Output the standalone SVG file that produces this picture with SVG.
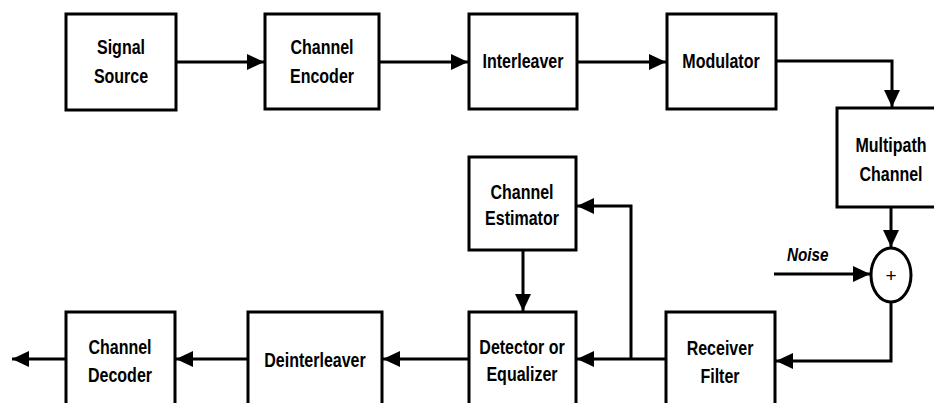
<svg xmlns="http://www.w3.org/2000/svg" width="934" height="403" viewBox="0 0 934 403">
<style>
.box{fill:#fff;stroke:#000;stroke-width:3}
.lbl{font-family:"Liberation Sans",Arial,sans-serif;font-weight:bold;font-size:20px;text-anchor:middle;fill:#000}
.wire{fill:none;stroke:#000;stroke-width:3}
</style>
<defs>
<marker id="ah" markerUnits="userSpaceOnUse" markerWidth="18" markerHeight="16" refX="17" refY="8" orient="auto">
<path d="M0,0 L17,8 L0,16 z" fill="#000"/>
</marker>
</defs>
<rect width="934" height="403" fill="#fff"/>
<g id="connectors">
<path class="wire" d="M176,62 L264,62" marker-end="url(#ah)"/>
<path class="wire" d="M379,62 L468,62" marker-end="url(#ah)"/>
<path class="wire" d="M577,62 L666,62" marker-end="url(#ah)"/>
<path class="wire" d="M776,61 L892,61 L892,107" marker-end="url(#ah)"/>
<path class="wire" d="M891,207 L891,247" marker-end="url(#ah)"/>
<path class="wire" d="M774,274 L870,274" marker-end="url(#ah)"/>
<path class="wire" d="M891,302 L891,361 L776,361" marker-end="url(#ah)"/>
<path class="wire" d="M666,359 L577,359" marker-end="url(#ah)"/>
<path class="wire" d="M631,359 L631,206 L577,206" marker-end="url(#ah)"/>
<path class="wire" d="M523,250 L523,311" marker-end="url(#ah)"/>
<path class="wire" d="M469,359 L383,359" marker-end="url(#ah)"/>
<path class="wire" d="M248,359 L176,359" marker-end="url(#ah)"/>
<path class="wire" d="M66,359 L12,359" marker-end="url(#ah)"/>
</g>
<g id="signal-source"><rect class="box" x="66" y="14" width="110" height="96"/><text class="lbl" transform="translate(121,54) scale(0.8,1)">Signal</text><text class="lbl" transform="translate(121,83) scale(0.8,1)">Source</text></g>
<g id="channel-encoder"><rect class="box" x="265" y="14" width="114" height="95"/><text class="lbl" transform="translate(322,54) scale(0.8,1)">Channel</text><text class="lbl" transform="translate(322,83) scale(0.8,1)">Encoder</text></g>
<g id="interleaver"><rect class="box" x="469" y="14" width="108" height="95"/><text class="lbl" transform="translate(523,68) scale(0.8,1)">Interleaver</text></g>
<g id="modulator"><rect class="box" x="667" y="14" width="109" height="95"/><text class="lbl" transform="translate(721,68) scale(0.8,1)">Modulator</text></g>
<g id="multipath-channel"><rect class="box" x="837" y="108" width="109" height="99"/><text class="lbl" transform="translate(891,152) scale(0.8,1)">Multipath</text><text class="lbl" transform="translate(891,181) scale(0.8,1)">Channel</text></g>
<g id="adder"><ellipse cx="891" cy="275" rx="20" ry="27" fill="#fff" stroke="#000" stroke-width="3"/><text x="891" y="282" font-family="Liberation Sans,Arial,sans-serif" font-size="19" text-anchor="middle" fill="#000">+</text></g>
<g id="noise"><text transform="translate(787,261) scale(0.85,1)" font-family="Liberation Sans,Arial,sans-serif" font-weight="bold" font-style="italic" font-size="18">Noise</text></g>
<g id="receiver-filter"><rect class="box" x="666" y="312" width="109" height="110"/><text class="lbl" transform="translate(720,355) scale(0.8,1)">Receiver</text><text class="lbl" transform="translate(720,383) scale(0.8,1)">Filter</text></g>
<g id="channel-estimator"><rect class="box" x="469" y="157" width="107" height="93"/><text class="lbl" transform="translate(522,199) scale(0.8,1)">Channel</text><text class="lbl" transform="translate(522,225) scale(0.8,1)">Estimator</text></g>
<g id="detector-equalizer"><rect class="box" x="469" y="312" width="107" height="110"/><text class="lbl" transform="translate(522,354) scale(0.8,1)">Detector or</text><text class="lbl" transform="translate(522,381) scale(0.8,1)">Equalizer</text></g>
<g id="deinterleaver"><rect class="box" x="248" y="312" width="134" height="110"/><text class="lbl" transform="translate(315,367) scale(0.8,1)">Deinterleaver</text></g>
<g id="channel-decoder"><rect class="box" x="66" y="312" width="109" height="110"/><text class="lbl" transform="translate(120,354) scale(0.8,1)">Channel</text><text class="lbl" transform="translate(120,382) scale(0.8,1)">Decoder</text></g>
</svg>
